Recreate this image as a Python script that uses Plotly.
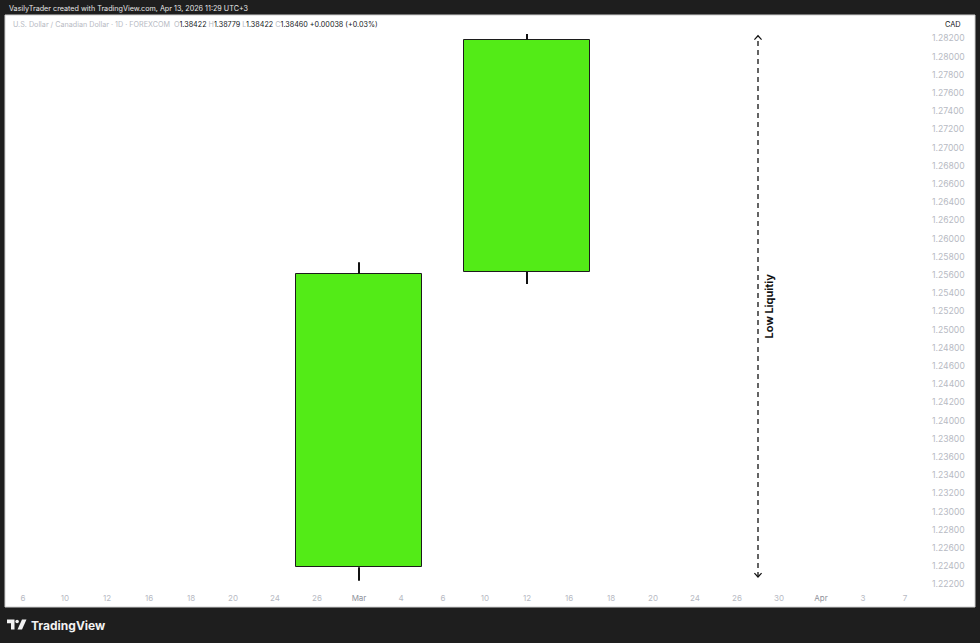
import plotly.graph_objects as go

# ---------------- data ----------------
x_tick_labels = ["6", "10", "12", "16", "18", "20", "24", "26", "Mar", "4", "6",
                 "10", "12", "16", "18", "20", "24", "26", "30", "Apr", "3", "7"]
month_labels = {"Mar", "Apr"}

candle_pos = [8, 12]          # index on the x axis (under "Mar" and "12")
candle_open = [1.22387, 1.25632]
candle_high = [1.25739, 1.28247]
candle_low = [1.22240, 1.25500]
candle_close = [1.25610, 1.28185]

y_tick_values = [round(1.222 + 0.002 * i, 3) for i in range(31)]

liq_pos = 17.5
liq_top = 1.28228
liq_bottom = 1.22280
liq_label = "Low Liquitiy"

header_top = "VasilyTrader created with TradingView.com, Apr 13, 2026 11:29 UTC+3"
symbol_name = "U.S. Dollar / Canadian Dollar · 1D · FOREXCOM"
ohlc_header = [("O", "1.38422"), ("H", "1.38779"), ("L", "1.38422"), ("C", "1.38460")]
change_text = "+0.00038 (+0.03%)"
currency = "CAD"

# ---------------- layout geometry ----------------
W, H = 980, 643
L, R, T, B = 5, 928, 15, 592
DARK = "#1e1e1e"
GREY = "#b7bac3"
GREEN = "#53eb17"
FONT = "Inter, Roboto, sans-serif"


def px_x(px):
    return (px - L) / (R - L)


def px_y(py):
    return (B - py) / (B - T)


fig = go.Figure()

# wicks (drawn outside the body)
wx, wy = [], []
for p, o, h, l, c in zip(candle_pos, candle_open, candle_high, candle_low, candle_close):
    wx += [p, p, None, p, p, None]
    wy += [l, min(o, c), None, max(o, c), h, None]
fig.add_trace(go.Scatter(x=wx, y=wy, mode="lines",
                         line=dict(color="#111111", width=2),
                         hoverinfo="skip", showlegend=False))

# bodies
fig.add_trace(go.Bar(x=candle_pos,
                     y=[c - o for o, c in zip(candle_open, candle_close)],
                     base=candle_open, width=3,
                     marker=dict(color=GREEN, line=dict(color="#1c1c1c", width=1)),
                     hoverinfo="skip", showlegend=False))

# dashed liquidity line
fig.add_trace(go.Scatter(x=[liq_pos, liq_pos], y=[liq_bottom, liq_top], mode="lines",
                         line=dict(color="#111111", width=1.3, dash="5px,4px"),
                         hoverinfo="skip", showlegend=False))
# chevron heads
dx, dy = 0.085, 0.00042
fig.add_trace(go.Scatter(
    x=[liq_pos - dx, liq_pos, liq_pos + dx, None, liq_pos - dx, liq_pos, liq_pos + dx],
    y=[liq_top - dy, liq_top, liq_top - dy, None, liq_bottom + dy, liq_bottom, liq_bottom + dy],
    mode="lines", line=dict(color="#111111", width=1.2),
    hoverinfo="skip", showlegend=False))

annotations = []
annotations.append(dict(x=liq_pos, y=(liq_top + liq_bottom) / 2, xref="x", yref="y",
                        text="<b>" + liq_label + "</b>", textangle=-90, showarrow=False,
                        xshift=11,
                        font=dict(family=FONT, size=11, color="#111111")))

# top dark strip text
annotations.append(dict(x=px_x(7), y=px_y(8.5), xref="paper", yref="paper",
                        xanchor="left", yanchor="middle", showarrow=False,
                        text=header_top,
                        font=dict(family=FONT, size=7.2, color="#e6e6e6")))

# symbol line
parts = [f"<span style='color:{GREY}'>{symbol_name}</span>  "]
for k, v in ohlc_header:
    parts.append(f"<span style='color:{GREY}'>{k}</span><span style='color:#131722'>{v}</span> ")
parts.append(f"<span style='color:#131722'>{change_text}</span>")
annotations.append(dict(x=px_x(11), y=px_y(25), xref="paper", yref="paper",
                        xanchor="left", yanchor="middle", showarrow=False,
                        text="".join(parts),
                        font=dict(family=FONT, size=7.2, color=GREY)))

annotations.append(dict(x=px_x(953), y=px_y(25), xref="paper", yref="paper",
                        xanchor="center", yanchor="middle", showarrow=False,
                        text=currency,
                        font=dict(family=FONT, size=7.4, color="#131722")))

# TradingView footer
annotations.append(dict(x=px_x(29), y=px_y(625.5), xref="paper", yref="paper",
                        xanchor="left", yanchor="middle", showarrow=False,
                        text="<b>TradingView</b>",
                        font=dict(family=FONT, size=12, color="#f2f2f2")))

shapes = [
    dict(type="rect", xref="paper", yref="paper", layer="below",
         x0=px_x(5), x1=px_x(975), y0=px_y(607), y1=px_y(15),
         fillcolor="white", line=dict(color="#d0d0d0", width=1)),
]


def poly(pts):
    s = "M " + " L ".join(f"{px_x(a)},{px_y(b)}" for a, b in pts) + " Z"
    return dict(type="path", xref="paper", yref="paper", path=s,
                fillcolor="#f2f2f2", line=dict(width=0), layer="above")


shapes.append(poly([(7, 619.5), (14.5, 619.5), (14.5, 629.5), (11, 629.5), (11, 623.2), (7, 623.2)]))
shapes.append(dict(type="circle", xref="paper", yref="paper",
                   x0=px_x(15.3), x1=px_x(18.9), y0=px_y(623.3), y1=px_y(619.7),
                   fillcolor="#f2f2f2", line=dict(width=0)))
shapes.append(poly([(22, 619.5), (26.5, 619.5), (22, 629.5), (17.5, 629.5)]))

x_text = [f"<span style='color:#8f929b'>{t}</span>" if t in month_labels else t
          for t in x_tick_labels]

fig.update_layout(
    width=W, height=H, autosize=False,
    margin=dict(l=L, r=W - R, t=T, b=H - B, pad=0),
    paper_bgcolor=DARK, plot_bgcolor="white",
    showlegend=False, bargap=0,
    annotations=annotations, shapes=shapes,
    xaxis=dict(range=[(L - 23) / 42, (R - 23) / 42],
               tickvals=list(range(len(x_tick_labels))), ticktext=x_text,
               showgrid=False, zeroline=False, showline=False, ticks="",
               tickfont=dict(family=FONT, size=8, color=GREY),
               fixedrange=True),
    yaxis=dict(side="right",
               range=[1.282 - (B - 38.3) / 9100, 1.282 + (38.3 - T) / 9100],
               tickvals=y_tick_values, tickformat=".5f",
               showgrid=False, zeroline=False, showline=False, ticks="",
               ticklabelstandoff=3,
               tickfont=dict(family=FONT, size=8.6, color=GREY),
               fixedrange=True),
)

fig.write_html("out.html", config={"displayModeBar": False},
               post_script="document.body.style.margin='0';document.body.style.background='#1e1e1e';")
